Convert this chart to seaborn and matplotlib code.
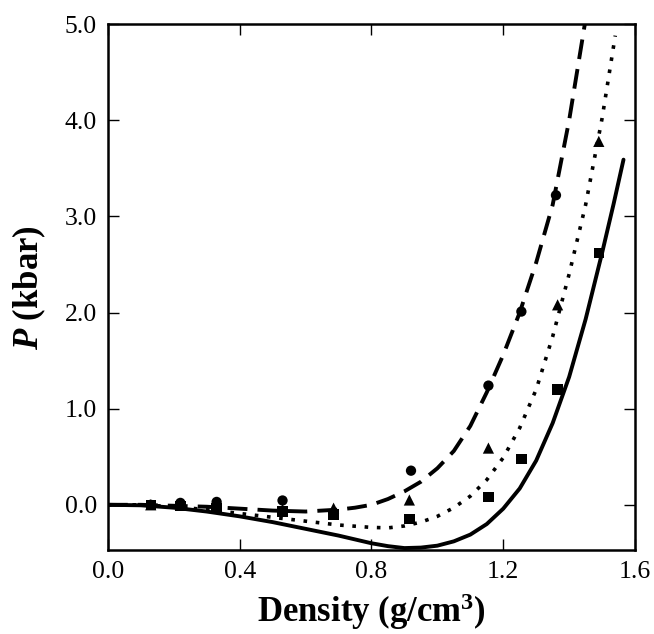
import matplotlib
matplotlib.use("Agg")
import matplotlib.pyplot as plt
import seaborn as sns

# ---- data ----
solid_x = [0.0, 0.1, 0.2, 0.3, 0.4, 0.5, 0.6, 0.7, 0.8, 0.85, 0.9, 0.95, 1.0, 1.05, 1.1,
           1.15, 1.2, 1.25, 1.3, 1.35, 1.4, 1.45, 1.5, 1.535, 1.565]
solid_y = [0.0, -0.005, -0.03, -0.07, -0.12, -0.18, -0.25, -0.32, -0.40, -0.43, -0.45, -0.445,
           -0.425, -0.38, -0.31, -0.20, -0.04, 0.17, 0.46, 0.85, 1.33, 1.93, 2.62, 3.13, 3.59]

dotted_x = [0.0, 0.1, 0.2, 0.3, 0.4, 0.5, 0.6, 0.7, 0.8, 0.85, 0.9, 0.95, 1.0, 1.05, 1.1,
            1.15, 1.2, 1.25, 1.3, 1.35, 1.4, 1.45, 1.5, 1.54]
dotted_y = [0.0, 0.0, -0.02, -0.05, -0.09, -0.13, -0.17, -0.21, -0.235, -0.24, -0.22, -0.18,
            -0.12, -0.03, 0.09, 0.26, 0.49, 0.80, 1.20, 1.75, 2.40, 3.12, 4.02, 4.88]

dashed_x = [0.0, 0.1, 0.2, 0.3, 0.4, 0.5, 0.6, 0.7, 0.75, 0.8, 0.85, 0.9, 0.95, 1.0, 1.05,
            1.1, 1.15, 1.2, 1.25, 1.3, 1.35, 1.4, 1.45]
dashed_y = [0.0, 0.0, -0.01, -0.02, -0.04, -0.06, -0.07, -0.05, -0.03, 0.0, 0.06, 0.14, 0.24,
            0.38, 0.56, 0.82, 1.17, 1.56, 2.0, 2.52, 3.12, 4.0, 5.05]

circ_x = [0.13, 0.22, 0.33, 0.53, 0.92, 1.155, 1.255, 1.36]
circ_y = [0.0, 0.02, 0.03, 0.045, 0.355, 1.24, 2.01, 3.22]

tri_x = [0.13, 0.22, 0.33, 0.53, 0.685, 0.915, 1.155, 1.365, 1.49]
tri_y = [0.0, 0.0, -0.02, -0.05, -0.035, 0.05, 0.59, 2.08, 3.78]

sq_x = [0.13, 0.22, 0.33, 0.53, 0.685, 0.915, 1.155, 1.255, 1.365, 1.49]
sq_y = [0.0, -0.01, -0.03, -0.07, -0.10, -0.15, 0.08, 0.475, 1.2, 2.62]

x_ticks = [0.0, 0.4, 0.8, 1.2, 1.6]
y_ticks = [0.0, 1.0, 2.0, 3.0, 4.0, 5.0]

# ---- style ----
sns.set_style("ticks")
plt.rcParams["font.family"] = ["Liberation Serif", "DejaVu Serif"]
plt.rcParams["mathtext.fontset"] = "custom"
plt.rcParams["mathtext.rm"] = "Liberation Serif:bold"
plt.rcParams["mathtext.bf"] = "Liberation Serif:bold"
plt.rcParams["mathtext.it"] = "Liberation Serif:italic:bold"
plt.rcParams["text.color"] = "black"
plt.rcParams["axes.labelcolor"] = "black"

fig = plt.figure(figsize=(6.54, 6.34), dpi=100)
ax = fig.add_axes([0.165, 0.1325, 0.806, 0.8295])

sns.lineplot(x=solid_x, y=solid_y, ax=ax, color="black", lw=2.8, estimator=None, sort=False)
sns.lineplot(x=dotted_x, y=dotted_y, ax=ax, color="black", lw=2.6, estimator=None, sort=False,
             linestyle=(0, (1.0, 2.4)))
sns.lineplot(x=dashed_x, y=dashed_y, ax=ax, color="black", lw=2.8, estimator=None, sort=False,
             linestyle=(0, (5.1, 2.6)))

sns.scatterplot(x=tri_x, y=tri_y, ax=ax, marker="^", color="black", s=65, edgecolor="none", zorder=3)
sns.scatterplot(x=sq_x, y=sq_y, ax=ax, marker="s", color="black", s=55, edgecolor="none", zorder=3)
sns.scatterplot(x=circ_x, y=circ_y, ax=ax, marker="o", color="black", s=55, edgecolor="none", zorder=3)

ax.set_xlim(0.0, 1.6)
ax.set_ylim(-0.47, 5.0)
ax.set_xticks(x_ticks)
ax.set_xticklabels([f"{v:.1f}" for v in x_ticks])
ax.set_yticks(y_ticks)
ax.set_yticklabels([f"{v:.1f}" for v in y_ticks])
ax.tick_params(direction="in", length=8, width=1, labelsize=18.5, top=True, right=True,
               pad=8, colors="black")
for s in ax.spines.values():
    s.set_linewidth(1.8)
    s.set_color("black")

ax.set_xlabel(r"Density (g/cm$^{3}$)", fontsize=25, fontweight="bold", labelpad=6)
ax.set_ylabel(r"$P$ (kbar)", fontsize=25, fontweight="bold", labelpad=12)

fig.savefig("out.png", dpi=100)
